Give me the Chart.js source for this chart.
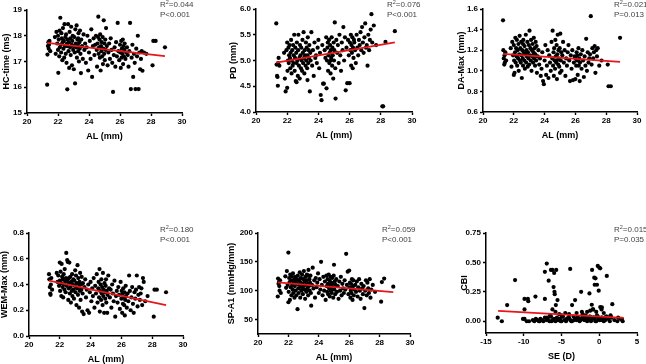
<!DOCTYPE html>
<html>
<head>
<meta charset="utf-8">
<script src="https://cdn.jsdelivr.net/npm/chart.js@4.4.1/dist/chart.umd.min.js"></script>
<style>
  body { margin: 0; width: 646px; height: 364px; background: #fff; position: relative; overflow: hidden; font-family: "Liberation Sans", Arial, sans-serif; }
  canvas { position: absolute; }
  .stat { position: absolute; font-size: 8px; line-height: 9.5px; color: #444; white-space: nowrap; }
  .stat sup { font-size: 5.5px; line-height: 0; vertical-align: 3px; }
</style>
</head>
<body>
<script>
// axial length (mm), one value per eye, shared by the first five plots
const axialLength = [
  21.30, 21.32, 21.35, 21.38, 21.40, 21.42, 21.45, 21.50, 21.80, 21.85,
  21.90, 21.95, 22.00, 22.00, 22.02, 22.05, 22.08, 22.10, 22.12, 22.15,
  22.18, 22.20, 22.22, 22.25, 22.28, 22.30, 22.32, 22.35, 22.38, 22.40,
  22.42, 22.45, 22.48, 22.50, 22.52, 22.55, 22.58, 22.60, 22.62, 22.65,
  22.68, 22.70, 22.72, 22.75, 22.78, 22.80, 22.82, 22.85, 22.88, 22.90,
  22.92, 22.95, 22.98, 23.00, 23.02, 23.05, 23.08, 23.10, 23.12, 23.15,
  23.18, 23.20, 23.22, 23.25, 23.28, 23.30, 23.32, 23.35, 23.38, 23.40,
  23.42, 23.45, 23.48, 23.50, 23.55, 23.60, 23.65, 23.70, 23.75, 23.80,
  23.85, 23.90, 23.95, 24.00, 24.05, 24.10, 24.15, 24.20, 24.25, 24.30,
  24.35, 24.40, 24.45, 24.50, 24.52, 24.55, 24.58, 24.60, 24.62, 24.65,
  24.68, 24.70, 24.72, 24.75, 24.78, 24.80, 24.82, 24.85, 24.88, 24.90,
  24.92, 24.95, 24.98, 25.00, 25.02, 25.05, 25.08, 25.10, 25.15, 25.20,
  25.25, 25.30, 25.35, 25.40, 25.45, 25.50, 25.55, 25.60, 25.65, 25.70,
  25.75, 25.80, 25.85, 25.90, 25.95, 26.00, 26.02, 26.05, 26.08, 26.10,
  26.12, 26.15, 26.18, 26.20, 26.22, 26.25, 26.28, 26.30, 26.35, 26.40,
  26.45, 26.50, 26.55, 26.60, 26.65, 26.70, 26.75, 26.80, 26.85, 26.90,
  26.95, 27.00, 27.05, 27.10, 27.15, 27.20, 27.25, 27.30, 27.35, 27.40,
  27.45, 27.55, 27.70, 28.10, 28.15, 28.30, 28.90, 22.60, 23.30, 24.80
];

const hcTime = [
  16.10, 17.27, 17.60, 17.75, 17.50, 17.65, 17.80, 17.40, 17.95, 17.30,
  18.15, 17.70, 17.45, 18.00, 16.56, 17.85, 17.20, 18.20, 17.55, 18.70,
  17.65, 17.35, 18.10, 17.90, 17.05, 17.75, 18.30, 17.50, 17.80, 17.15,
  18.45, 17.60, 17.95, 17.30, 18.05, 16.95, 17.70, 15.92, 17.85, 18.45,
  17.40, 17.75, 16.75, 18.15, 17.55, 17.90, 17.25, 18.35, 17.65, 16.85,
  17.80, 18.00, 17.45, 17.60, 16.70, 17.95, 17.35, 16.15, 18.25, 17.70,
  17.55, 18.40, 17.15, 17.85, 17.65, 17.40, 18.10, 17.00, 17.75, 17.50,
  18.20, 17.30, 16.55, 17.85, 17.60, 17.10, 18.05, 17.45, 17.70, 16.95,
  17.55, 18.00, 16.65, 17.35, 17.80, 17.10, 18.25, 16.40, 17.60, 17.90,
  17.25, 17.65, 18.00, 17.45, 16.80, 17.70, 17.95, 18.74, 17.30, 17.55,
  17.85, 17.15, 18.05, 16.65, 17.60, 17.40, 17.75, 17.20, 17.95, 16.90,
  17.50, 18.60, 17.30, 17.70, 17.05, 17.85, 17.45, 18.30, 17.60, 16.85,
  17.35, 17.70, 17.10, 17.90, 17.45, 16.95, 15.82, 17.25, 17.55, 16.80,
  17.75, 17.20, 18.50, 17.40, 17.05, 17.65, 17.35, 16.75, 17.80, 17.15,
  17.50, 17.30, 17.85, 16.90, 17.60, 17.20, 17.45, 17.70, 17.10, 17.35,
  17.55, 17.25, 16.80, 17.40, 18.50, 15.93, 17.15, 17.65, 16.40, 17.30,
  16.95, 15.93, 17.50, 17.20, 18.00, 15.93, 17.35, 16.70, 17.10, 17.40,
  16.64, 17.35, 17.30, 16.85, 17.80, 17.80, 17.55, 17.60, 17.90, 17.50
];

const pupilDist = [
  5.72, 4.92, 4.70, 4.68, 4.51, 4.95, 5.05, 4.90, 5.15, 4.65,
  4.40, 5.20, 4.47, 5.35, 4.80, 5.00, 5.25, 4.95, 5.10, 5.30,
  5.05, 4.85, 5.15, 5.40, 4.75, 5.00, 5.20, 4.90, 5.30, 4.95,
  5.10, 5.50, 4.80, 5.05, 5.25, 4.60, 5.15, 4.95, 5.35, 5.00,
  4.70, 5.20, 5.50, 4.90, 5.05, 4.65, 5.30, 5.10, 4.85, 5.25,
  5.00, 4.80, 5.40, 5.15, 4.95, 5.55, 5.05, 4.75, 5.20, 5.10,
  4.90, 5.35, 5.00, 5.25, 4.85, 5.10, 5.45, 4.95, 5.20, 5.05,
  5.30, 4.40, 5.15, 5.00, 5.55, 4.90, 5.20, 4.70, 5.35, 5.05,
  5.10, 4.95, 5.25, 5.40, 4.85, 5.15, 4.33, 4.23, 5.30, 4.55,
  4.55, 5.20, 5.05, 5.45, 4.46, 5.00, 5.25, 5.35, 4.80, 5.10,
  5.40, 4.95, 5.15, 5.30, 4.75, 5.20, 5.05, 5.45, 4.90, 5.25,
  5.10, 4.65, 5.35, 5.00, 5.20, 5.74, 4.85, 4.26, 5.40, 5.15,
  5.30, 4.95, 5.50, 5.10, 4.80, 5.35, 5.20, 5.65, 5.00, 5.45,
  4.42, 5.25, 4.56, 5.40, 5.10, 4.56, 5.35, 5.20, 5.50, 4.90,
  5.30, 5.15, 5.45, 4.85, 5.25, 5.05, 5.40, 5.35, 5.20, 4.95,
  5.50, 5.25, 5.10, 5.40, 5.30, 5.55, 5.20, 5.65, 5.35, 5.15,
  5.45, 5.72, 5.25, 5.30, 4.90, 5.50, 5.20, 5.40, 5.60, 5.90,
  5.35, 5.68, 5.30, 4.11, 4.11, 5.36, 5.57, 4.58, 4.62, 5.00
];

const daMax = [
  1.49, 1.20, 1.12, 1.06, 1.15, 1.08, 1.18, 1.10, 1.22, 1.04,
  1.28, 1.15, 0.96, 1.25, 1.10, 0.98, 1.18, 1.32, 1.08, 1.22,
  1.14, 1.30, 1.05, 1.20, 1.12, 1.26, 1.00, 1.16, 1.34, 1.10,
  1.22, 1.08, 1.28, 1.15, 0.93, 1.20, 1.12, 1.05, 1.30, 1.18,
  1.10, 1.24, 1.02, 1.16, 1.35, 1.08, 1.20, 1.14, 1.28, 1.04,
  1.18, 1.12, 1.25, 1.06, 1.39, 1.15, 1.22, 1.10, 1.30, 1.00,
  1.20, 1.14, 1.26, 1.08, 1.18, 1.32, 1.12, 1.22, 1.05, 1.16,
  1.28, 1.10, 1.24, 0.98, 1.14, 1.20, 1.06, 1.12, 0.95, 1.02,
  1.18, 0.90, 0.87, 1.10, 1.25, 0.96, 1.05, 1.20, 0.93, 1.15,
  1.08, 1.00, 1.28, 1.12, 1.39, 1.05, 1.18, 0.95, 1.22, 1.10,
  1.02, 1.30, 1.14, 1.08, 1.25, 0.92, 1.16, 1.35, 1.06, 1.20,
  1.12, 1.04, 1.22, 0.98, 1.36, 1.10, 1.18, 1.00, 1.15, 1.28,
  1.08, 1.20, 0.95, 1.12, 1.05, 1.18, 1.25, 1.10, 0.90, 1.15,
  1.02, 1.20, 0.91, 1.08, 1.14, 0.92, 1.12, 1.05, 1.18, 1.10,
  1.15, 0.96, 1.10, 1.22, 1.05, 1.12, 0.90, 1.08, 1.16, 1.02,
  1.20, 1.10, 0.94, 1.14, 1.05, 1.31, 1.00, 1.18, 1.08, 1.12,
  1.16, 1.53, 1.06, 1.22, 1.12, 1.18, 1.24, 0.98, 1.20, 1.14,
  1.22, 1.05, 1.10, 1.06, 0.85, 0.85, 1.32, 1.26, 1.16, 1.10
];

const wemMax = [
  0.48, 0.44, 0.38, 0.33, 0.32, 0.40, 0.45, 0.36, 0.49, 0.42,
  0.47, 0.39, 0.57, 0.43, 0.35, 0.50, 0.41, 0.31, 0.56, 0.46,
  0.38, 0.44, 0.30, 0.48, 0.40, 0.36, 0.52, 0.42, 0.34, 0.45,
  0.645, 0.39, 0.59, 0.43, 0.575, 0.28, 0.37, 0.41, 0.57, 0.33,
  0.46, 0.38, 0.26, 0.42, 0.35, 0.48, 0.31, 0.40, 0.44, 0.36,
  0.29, 0.43, 0.39, 0.51, 0.34, 0.47, 0.24, 0.41, 0.37, 0.55,
  0.32, 0.45, 0.38, 0.22, 0.42, 0.35, 0.49, 0.28, 0.40, 0.36,
  0.46, 0.19, 0.33, 0.41, 0.17, 0.38, 0.44, 0.30, 0.36, 0.20,
  0.40, 0.18, 0.34, 0.42, 0.27, 0.37, 0.31, 0.45, 0.22, 0.39,
  0.33, 0.48, 0.26, 0.37, 0.42, 0.30, 0.52, 0.19, 0.35, 0.40,
  0.28, 0.44, 0.33, 0.38, 0.24, 0.49, 0.31, 0.36, 0.18, 0.41,
  0.34, 0.29, 0.39, 0.44, 0.26, 0.35, 0.18, 0.32, 0.47, 0.37,
  0.30, 0.36, 0.22, 0.40, 0.33, 0.27, 0.43, 0.15, 0.31, 0.35,
  0.26, 0.38, 0.32, 0.21, 0.42, 0.29, 0.35, 0.18, 0.33, 0.25,
  0.37, 0.30, 0.24, 0.34, 0.16, 0.28, 0.39, 0.31, 0.22, 0.33,
  0.27, 0.47, 0.35, 0.20, 0.30, 0.38, 0.25, 0.18, 0.34, 0.29,
  0.36, 0.47, 0.23, 0.32, 0.38, 0.28, 0.33, 0.37, 0.24, 0.45,
  0.42, 0.27, 0.31, 0.15, 0.36, 0.36, 0.34, 0.45, 0.40, 0.34
];

const spA1 = [
  90, 121, 112, 115, 108, 100, 118, 96, 125, 105,
  134, 110, 80, 166, 98, 122, 115, 84, 128, 106,
  118, 92, 125, 110, 102, 130, 96, 114, 120, 88,
  108, 124, 100, 116, 92, 120, 112, 68, 126, 104,
  96, 118, 110, 132, 88, 114, 122, 100, 106, 128,
  112, 94, 120, 108, 134, 102, 116, 86, 124, 110,
  98, 118, 128, 104, 112, 92, 136, 108, 120, 100,
  114, 126, 96, 74, 110, 140, 104, 118, 88, 122,
  106, 114, 130, 96, 120, 102, 150, 110, 92, 124,
  100, 116, 84, 126, 108, 98, 120, 112, 94, 128,
  104, 118, 90, 110, 124, 100, 114, 96, 122, 106,
  112, 88, 126, 145, 102, 116, 94, 110, 120, 98,
  108, 86, 116, 100, 124, 92, 112, 104, 96, 118,
  102, 164, 110, 133, 94, 135, 106, 114, 88, 100,
  112, 96, 120, 104, 84, 108, 118, 92, 102, 110,
  98, 116, 90, 106, 120, 100, 86, 112, 104, 94,
  108, 70, 100, 118, 92, 114, 104, 96, 120, 88,
  102, 110, 98, 81, 115, 121, 107, 118, 126, 100
];

// spherical equivalent (D) and CBI for the last plot
const sphEq = [
  -13.45, -12.9, -12.2, -11.15, -9.9, -9.9, -9.9, -9.45, -9.4, -9.3,
  -8.45, -7.2, -7.2, -6.95, -6.7, -6.4, -6.2, -6.05, -5.97, -5.93,
  -5.9, -5.7, -5.75, -5.53, -3.85, -3.6, -3.2, -2.4, -1.3, -0.95,
  -0.99, -0.66, -0.5, -0.6, -0.3, -0.2, 0.0, 0.13, -0.07, 0.13,
  0.35, 1.0, 1.73, -6.2, -5.8, -5.3, -4.5, -4.0, -3.0, -2.2,
  -1.6, -1.2, -0.8, -0.4, 0.3, 0.6, -5.0, -6.5, -1.8, 1.5,
  2.5, 3.0, 3.1, -2.3, -0.85, -8.8, -8.6, -8.4, -8.2, -8.0,
  -7.8, -7.6, -7.4, -7.2, -7.0, -6.8, -6.6, -6.4, -6.2, -6.0,
  -5.8, -5.6, -5.4, -5.2, -5.0, -4.8, -4.6, -4.4, -4.2, -4.0,
  -3.8, -3.6, -3.4, -3.2, -3.0, -2.8, -2.6, -2.4, -2.2, -2.0,
  -1.8, -1.6, -1.4, -1.2, -1.0, -0.8, -0.6, -0.4, -0.2, 0.0,
  0.2, 0.4, 0.6, 0.8, 1.0, 1.2, 1.4, 1.6, 2.0, 2.4,
  2.8, -6.9, -6.3, -5.5, -4.9, -4.3, -3.7, -2.9, -2.5, -1.9,
  -1.5, -1.1, -0.7, -0.3, 0.1, 0.5, 0.9, -5.1, -4.1, -3.3,
  -2.3, -1.3, -0.5, 0.3, 0.7, -9.6, -10.1, -7.9, -0.1, 0.4
];
const cbi = [
  0.03, 0.00, 0.137, 0.35, 0.19, 0.10, 0.02, 0.19, 0.17, 0.00,
  0.21, 0.19, 0.42, 0.49, 0.345, 0.436, 0.436, 0.29, 0.41, 0.25,
  0.23, 0.436, 0.137, 0.18, 0.445, 0.137, 0.18, 0.25, 0.236, 0.436,
  0.14, 0.37, 0.365, 0.31, 0.31, 0.47, 0.456, 0.45, 0.26, 0.12,
  0.117, 0.385, 0.145, 0.10, 0.08, 0.06, 0.07, 0.06, 0.07, 0.06,
  0.08, 0.09, 0.10, 0.08, 0.10, 0.07, 0.05, 0.05, 0.05, 0.05,
  0.03, 0.02, 0.00, 0.08, 0.10, 0.01, 0.00, 0.02, 0.01, 0.00,
  0.02, 0.01, 0.00, 0.03, 0.01, 0.02, 0.00, 0.04, 0.01, 0.02,
  0.00, 0.03, 0.01, 0.02, 0.00, 0.04, 0.01, 0.00, 0.02, 0.03,
  0.01, 0.00, 0.04, 0.02, 0.01, 0.03, 0.00, 0.02, 0.04, 0.01,
  0.03, 0.00, 0.02, 0.04, 0.01, 0.03, 0.02, 0.00, 0.04, 0.01,
  0.02, 0.03, 0.00, 0.01, 0.04, 0.02, 0.00, 0.03, 0.01, 0.00,
  0.02, 0.03, 0.00, 0.01, 0.04, 0.02, 0.00, 0.03, 0.01, 0.04,
  0.02, 0.00, 0.03, 0.05, 0.01, 0.02, 0.04, 0.00, 0.03, 0.01,
  0.02, 0.04, 0.00, 0.03, 0.01, 0.00, 0.02, 0.00, 0.02, 0.01
];

// regression line end points
const hcFit = [[21.3, 17.72], [28.9, 17.21]];
const pdFit = [[21.3, 4.96], [28.9, 5.35]];
const daFit = [[21.3, 1.165], [28.9, 1.087]];
const wemFit = [[21.3, 0.43], [28.9, 0.24]];
const spFit = [[21.3, 114.5], [28.9, 97.5]];
const cbiFit = [[-13.4, 0.088], [3.2, 0.028]];

const alTicks = [20, 22, 24, 26, 28, 30];
const seTicks = [-15, -10, -5, 0, 5];

const stats = [
  ["0.044", "P<0.001"], ["0.076", "P<0.001"], ["0.021", "P=0.013"],
  ["0.180", "P<0.001"], ["0.059", "P<0.001"], ["0.015", "P=0.035"]
];

const FONT = "'Liberation Sans', Arial, sans-serif";

// plot box in page pixels + axis setup
const panels = [
  { L: 27, T: 10, R: 182, B: 113, dy: 20.5, xs: axialLength, ys: hcTime, fit: hcFit,
    xr: [20, 30], xt: alTicks, yr: [15, 19], yt: [15, 16, 17, 18, 19], dec: 0,
    xTitle: "AL (mm)", yTitle: "HC-time (ms)", sx: 160, sy: 0 },
  { L: 256, T: 9, R: 412, B: 112, dy: 23, xs: axialLength, ys: pupilDist, fit: pdFit,
    xr: [20, 30], xt: alTicks, yr: [4, 6], yt: [4, 4.5, 5, 5.5, 6], dec: 1,
    xTitle: "AL (mm)", yTitle: "PD (mm)", sx: 387, sy: 0 },
  { L: 483, T: 9, R: 637, B: 112, dy: 22, xs: axialLength, ys: daMax, fit: daFit,
    xr: [20, 30], xt: alTicks, yr: [0.6, 1.6], yt: [0.6, 0.8, 1.0, 1.2, 1.4, 1.6], dec: 1,
    xTitle: "AL (mm)", yTitle: "DA-Max (mm)", sx: 614, sy: 0 },
  { L: 29, T: 233, R: 183, B: 336, dy: 24.5, xs: axialLength, ys: wemMax, fit: wemFit,
    xr: [20, 30], xt: alTicks, yr: [0, 0.8], yt: [0, 0.2, 0.4, 0.6, 0.8], dec: 1,
    xTitle: "AL (mm)", yTitle: "WEM-Max (mm)", sx: 160, sy: 225 },
  { L: 258, T: 233, R: 410, B: 334, dy: 26.5, xs: axialLength, ys: spA1, fit: spFit,
    xr: [20, 30], xt: alTicks, yr: [25, 200], yt: [50, 100, 150, 200], dec: 0,
    xTitle: "AL (mm)", yTitle: "SP-A1 (mmHg/mm)", sx: 382, sy: 225 },
  { L: 486, T: 233, R: 637, B: 333, dy: 22, xs: sphEq, ys: cbi, fit: cbiFit,
    xr: [-15, 5], xt: seTicks, yr: [-0.1, 0.75], yt: [0, 0.25, 0.5, 0.75], dec: 2,
    xTitle: "SE (D)", yTitle: "CBI", sx: 614, sy: 225 }
];

function axis(range, ticks, dec, title, isX, size) {
  return {
    type: "linear",
    min: range[0],
    max: range[1],
    afterBuildTicks: s => { s.ticks = ticks.map(v => ({ value: v })); },
    afterFit: s => { if (isX) s.height = size; else s.width = size; },
    grid: { drawOnChartArea: false, drawTicks: true, tickLength: 3, tickWidth: 1.4, tickColor: "#000" },
    border: { display: true, color: "#000", width: 1.5 },
    ticks: {
      color: "#000",
      padding: isX ? 1 : 2,
      maxRotation: 0,
      font: { family: FONT, size: 8, weight: "bold" },
      callback: v => Number(v).toFixed(dec)
    },
    title: {
      display: true,
      text: title,
      color: "#000",
      padding: 0,
      font: { family: FONT, size: 9, weight: "bold" }
    }
  };
}

panels.forEach((p, i) => {
  const wy = Math.round(p.dy + 5.4);
  const padTop = 8, padRight = 10, hx = 29;
  const w = p.R - p.L + wy + padRight;
  const h = p.B - p.T + padTop + hx;

  const cv = document.createElement("canvas");
  cv.width = w;
  cv.height = h;
  cv.style.left = (p.L - wy) + "px";
  cv.style.top = (p.T - padTop) + "px";
  cv.style.width = w + "px";
  cv.style.height = h + "px";
  document.body.appendChild(cv);

  const pts = p.xs.map((x, k) => ({ x: x, y: p.ys[k] }));

  new Chart(cv, {
    type: "scatter",
    data: {
      datasets: [
        {
          type: "line",
          data: p.fit.map(d => ({ x: d[0], y: d[1] })),
          borderColor: "#e8151b",
          borderWidth: 1.8,
          pointRadius: 0,
          order: 0
        },
        {
          data: pts,
          backgroundColor: "#000",
          borderWidth: 0,
          pointRadius: 2.1,
          order: 1
        }
      ]
    },
    options: {
      responsive: false,
      animation: false,
      events: [],
      layout: { padding: { top: padTop, right: padRight, left: 0, bottom: 0 } },
      plugins: { legend: { display: false }, tooltip: { enabled: false } },
      scales: {
        x: axis(p.xr, p.xt, 0, p.xTitle, true, hx),
        y: axis(p.yr, p.yt, p.dec, p.yTitle, false, wy)
      }
    }
  });

  const st = document.createElement("div");
  st.className = "stat";
  st.style.left = p.sx + "px";
  st.style.top = p.sy + "px";
  st.innerHTML = "R<sup>2</sup>=" + stats[i][0] + "<br>" + stats[i][1];
  document.body.appendChild(st);
});
</script>
</body>
</html>
